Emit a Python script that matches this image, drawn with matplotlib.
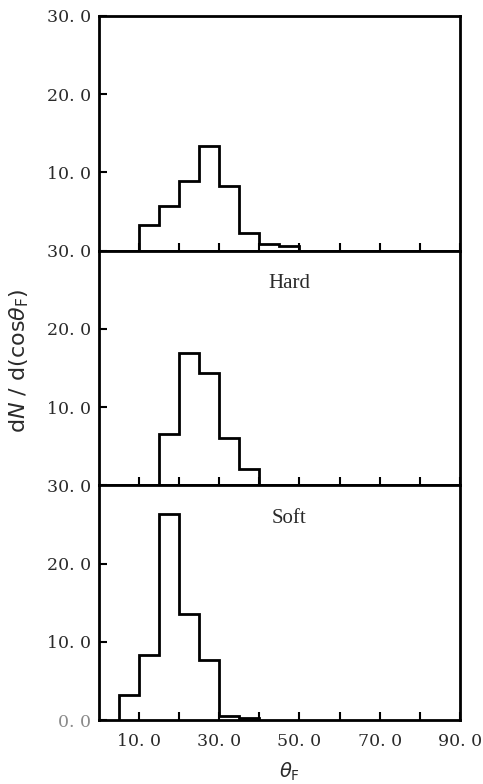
import matplotlib
matplotlib.use('Agg')
import matplotlib.pyplot as plt

# bin edges and heights
top_edges = [10, 15, 20, 25, 30, 35, 40, 45, 50]
top_vals = [3.3, 5.7, 8.9, 13.4, 8.3, 2.2, 0.8, 0.55]
hard_edges = [15, 20, 25, 30, 35, 40]
hard_vals = [6.6, 16.9, 14.4, 6.0, 2.1]
soft_edges = [5, 10, 15, 20, 25, 30, 35, 40]
soft_vals = [3.2, 8.3, 26.3, 13.6, 7.7, 0.5, 0.2]

panel_names = ['', 'Hard', 'Soft']
x_ticks = [10, 20, 30, 40, 50, 60, 70, 80, 90]
x_labels = ['10. 0', '', '30. 0', '', '50. 0', '', '70. 0', '', '90. 0']
y_ticks_top = [0, 10, 20, 30]
y_labels_top = ['30. 0', '10. 0', '20. 0', '30. 0']
y_ticks = [0, 10, 20]
y_labels_mid = ['30. 0', '10. 0', '20. 0']
y_labels_bot = ['0. 0', '10. 0', '20. 0']

plt.rcParams['font.family'] = ['DejaVu Serif']
tcol = '#2a2a2a'

fig, axes = plt.subplots(3, 1, figsize=(4.83, 7.84), dpi=100, sharex=True)
fig.subplots_adjust(left=0.205, right=0.952, top=0.9796, bottom=0.0816, hspace=0)

data = [(top_edges, top_vals), (hard_edges, hard_vals), (soft_edges, soft_vals)]
for i, ax in enumerate(axes):
    edges, vals = data[i]
    ax.stairs(vals, edges, color='black', lw=2, baseline=0)
    ax.set_xlim(0, 90)
    ax.set_ylim(0, 30)
    for s in ax.spines.values():
        s.set_linewidth(2)
    ax.tick_params(direction='in', length=6, width=1.5, labelsize=12.5,
                   labelcolor=tcol, pad=6)
    ax.tick_params(axis='x', top=False)
    ax.tick_params(axis='y', right=False)
    if panel_names[i]:
        ax.text(47.5, 25.8, panel_names[i], ha='center', va='center',
                fontsize=15, color=tcol, family=['Liberation Serif'])

axes[0].set_yticks(y_ticks_top)
axes[0].set_yticklabels(y_labels_top)
axes[1].set_yticks(y_ticks)
axes[1].set_yticklabels(y_labels_mid)
axes[2].set_yticks(y_ticks)
axes[2].set_yticklabels(y_labels_bot)
axes[2].get_yticklabels()[0].set_color('#8a8a8a')

axes[2].set_xticks(x_ticks)
axes[2].set_xticklabels(x_labels)
axes[2].tick_params(axis='x', pad=9)
fig.text(0.6, 0.016, r'$\theta_{\rm F}$', ha='center', va='center',
         fontsize=14, color=tcol)

fig.text(0.04, 0.54, r'd$N$ / d(cos$\theta_{\rm F}$)', rotation=90,
         ha='center', va='center', fontsize=16, color=tcol,
         family=['DejaVu Sans'])

fig.savefig('out.png', dpi=100)
